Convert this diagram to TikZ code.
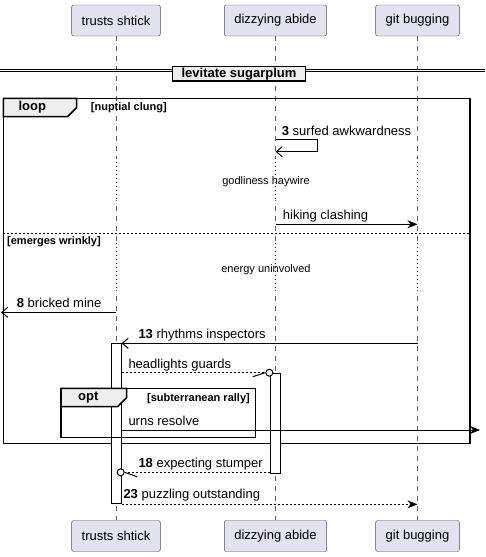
\documentclass[tikz,border=0pt]{standalone}
\usepackage{fontspec}
\setmainfont{Liberation Sans}
\usetikzlibrary{arrows.meta,positioning,calc}
\definecolor{partfill}{RGB}{226,226,240}
\definecolor{tabfill}{RGB}{238,238,238}
\definecolor{lifegray}{RGB}{95,95,95}
\definecolor{delayred}{RGB}{128,0,40}

\begin{document}
\begin{tikzpicture}[x=1pt, y=-1pt]
\tikzstyle{part} = [rectangle, draw=gray!60!black, fill=partfill, rounded corners=2pt, inner xsep=10pt, minimum height=31pt, font=\fontsize{13}{15}\selectfont]
\tikzstyle{lifeline} = [lifegray, line width=0.8pt, dash pattern=on 5pt off 5pt]
\tikzstyle{delay} = [delayred, line width=0.8pt, dash pattern=on 1pt off 3pt]
\tikzstyle{msg} = [font=\fontsize{13}{15}\selectfont, inner sep=0pt, anchor=base west]
\tikzstyle{note} = [font=\fontsize{11}{13}\selectfont, inner sep=0pt]
\tikzstyle{guard} = [font=\bfseries\fontsize{11}{13}\selectfont, inner sep=0pt]
\tikzstyle{kind} = [font=\bfseries\fontsize{13}{15}\selectfont, inner sep=0pt, anchor=west]
\tikzstyle{frame} = [line width=1.5pt]
\tikzstyle{arrow} = [-{Stealth[length=10pt,width=8pt,inset=3pt]}, line width=1pt]
\tikzstyle{openarrow} = [-{Straight Barb[length=6pt,width=10pt]}, line width=1pt]
\tikzstyle{reply} = [line width=1pt, dash pattern=on 2pt off 2pt]
\tikzstyle{act} = [draw, fill=white, line width=1pt, minimum width=10pt, inner sep=0pt, anchor=north]

\useasboundingbox (0,0) rectangle (485,557);

\node (trusts) [part] at (116,20.5) {trusts shtick};
\node (dizzy) [part] at (275.5,20.5) {dizzying abide};
\node (git) [part] at (417.5,20.5) {git bugging};
\node (trusts-b) [part] at (116,536) {trusts shtick};
\node (dizzy-b) [part] at (275.5,536) {dizzying abide};
\node (git-b) [part] at (417.5,536) {git bugging};

\foreach \p in {trusts,dizzy,git} {
  \draw[lifeline] (\p.south) -- (\p-b.north);
  \draw[white, line width=2pt] (\p |- 0,158) -- (\p |- 0,200);
  \draw[delay] (\p |- 0,158) -- (\p |- 0,200);
  \draw[white, line width=2pt] (\p |- 0,243) -- (\p |- 0,290);
  \draw[delay] (\p |- 0,243) -- (\p |- 0,290);
}

\draw[double distance=1.4pt, line width=0.9pt] (0,70.3) -- (485,70.3);
\node (divider) [draw, line width=1.5pt, fill=tabfill, inner xsep=9pt, inner ysep=1pt, minimum height=14.5pt, font=\bfseries\fontsize{13}{15}\selectfont] at (239,73.8) {levitate sugarplum};

\draw[frame] (3.3,98.3) rectangle (470,443.3);
\filldraw[frame, fill=tabfill] (3.3,98.3) -- (76.7,98.3) -- (76.7,107.5) -- (67.5,116.7) -- (3.3,116.7) -- cycle;
\node (loop) [kind] at (18.3,107.5) {loop};
\node (loopguard) [guard, anchor=west] at (90.7,108) {[nuptial clung]};
\draw[dash pattern=on 2pt off 2pt, line width=0.8pt] (3.3,233.3) -- (470,233.3);
\node (elseguard) [guard, anchor=west] at (7,241.7) {[emerges wrinkly]};

\draw[openarrow] (dizzy |- 0,139.3) -| (317.3,151.7) -- (dizzy |- 0,151.7);
\node (m3) [msg] at (281.7,135) {\textbf{3} surfed awkwardness};
\node (wait1) [note] at (266,181.7) {godliness haywire};
\draw[arrow] (dizzy |- 0,224.3) -- (git |- 0,224.3);
\node (m5) [msg] at (282.7,219.8) {hiking clashing};
\node (wait2) [note] at (266,270) {energy uninvolved};
\coordinate (leftedge) at (1,312.3);
\draw[openarrow] (trusts |- leftedge) -- (leftedge);
\node (m8) [msg] at (16.7,307.8) {\textbf{8} bricked mine};

\node (act1) [act, minimum height=160pt] at (116,343.3) {};
\node (act2) [act, minimum height=100pt] at (275.5,373.3) {};

\draw[frame] (61,388.3) rectangle (255.7,437.7);
\filldraw[frame, fill=tabfill] (61,388.3) -- (126.7,388.3) -- (126.7,397.5) -- (117.5,406.7) -- (61,406.7) -- cycle;
\node (opt) [kind] at (78,397.5) {opt};
\node (optguard) [guard, anchor=east] at (250,398.3) {[subterranean rally]};

\draw[openarrow] (git |- act1.north east) -- (act1.north east);
\node (m13) [msg] at (138.3,338.8) {\textbf{13} rhythms inspectors};

\node (c1) [circle, draw, line width=1pt, fill=white, minimum size=7pt, inner sep=0pt] at (269.3,372.7) {};
\draw[reply] (act1.east |- c1) -- (c1.west);
\draw[line width=1pt] (c1.west) -- ++(-12.5,4);
\node (m14) [msg] at (128.3,368.2) {headlights guards};

\coordinate (rightedge) at (480,430);
\draw[arrow] (act1.east |- rightedge) -- (rightedge);
\node (m16) [msg] at (128.3,425.5) {urns resolve};

\node (c2) [circle, draw, line width=1pt, fill=white, minimum size=7pt, inner sep=0pt] at (120.7,472.3) {};
\draw[reply] (act2.west |- c2) -- (c2.east);
\draw[line width=1pt] (c2.east) -- ++(12.5,4.5);
\node (m18) [msg] at (138.3,467.8) {\textbf{18} expecting stumper};

\draw[reply, -{Stealth[length=10pt,width=8pt,inset=3pt]}] (act1.south east) -- (git |- act1.south);
\node (m23) [msg] at (123.3,498.8) {\textbf{23} puzzling outstanding};
\end{tikzpicture}
\end{document}
